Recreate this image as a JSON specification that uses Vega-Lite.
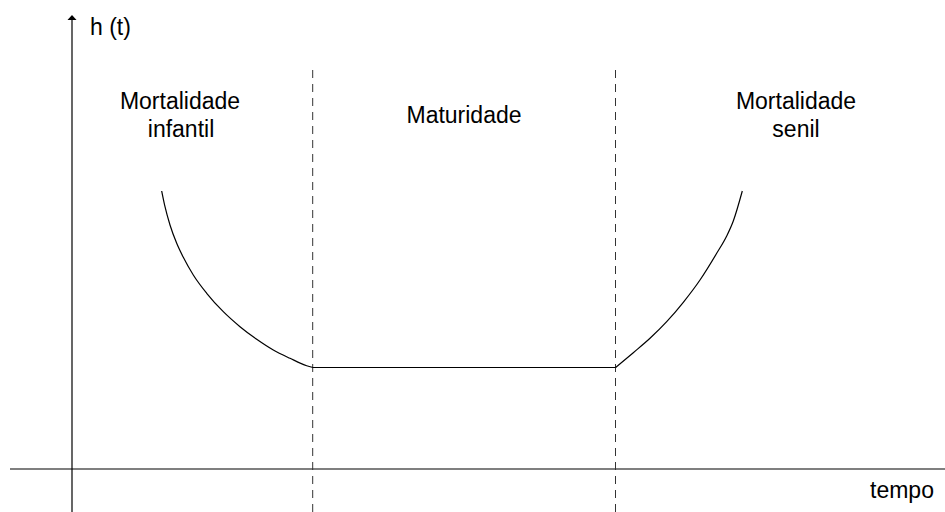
{
  "$schema": "https://vega.github.io/schema/vega-lite/v6.json",
  "width": 945,
  "height": 512,
  "padding": 0,
  "autosize": {"type": "none"},
  "background": "white",
  "config": {"view": {"stroke": null}, "font": "Liberation Sans"},
  "datasets": {
    "axes": [
      {"x": 0, "x2": 0, "y": -43, "y2": 451},
      {"x": -62, "x2": 873, "y": 0, "y2": 0}
    ],
    "dashes": [
      {"x": 240.7, "y": -43, "y2": 405},
      {"x": 543.5, "y": -43, "y2": 405}
    ],
    "arrow": [{"x": 0, "y": 451.5}],
    "curve": [
      {"seg": "a", "t": 89.7, "h": 278},
      {"seg": "a", "t": 93, "h": 262.3},
      {"seg": "a", "t": 98, "h": 244},
      {"seg": "a", "t": 104.7, "h": 225.7},
      {"seg": "a", "t": 111.3, "h": 211.7},
      {"seg": "a", "t": 121.3, "h": 194},
      {"seg": "a", "t": 134.7, "h": 175.7},
      {"seg": "a", "t": 151.3, "h": 157.3},
      {"seg": "a", "t": 168, "h": 142.3},
      {"seg": "a", "t": 184.7, "h": 129.7},
      {"seg": "a", "t": 201.3, "h": 119},
      {"seg": "a", "t": 218, "h": 110.7},
      {"seg": "a", "t": 234.7, "h": 103.3},
      {"seg": "a", "t": 241, "h": 101.5},
      {"seg": "b", "t": 241, "h": 101.5},
      {"seg": "b", "t": 543.7, "h": 101.5},
      {"seg": "c", "t": 543.7, "h": 101.5},
      {"seg": "c", "t": 561.3, "h": 116.3},
      {"seg": "c", "t": 578, "h": 130.7},
      {"seg": "c", "t": 594.7, "h": 147.3},
      {"seg": "c", "t": 611.3, "h": 166.7},
      {"seg": "c", "t": 628, "h": 189},
      {"seg": "c", "t": 644.7, "h": 215.7},
      {"seg": "c", "t": 654.7, "h": 233},
      {"seg": "c", "t": 661.3, "h": 248},
      {"seg": "c", "t": 670.3, "h": 278}
    ],
    "labels": [
      {"text": "Mortalidade", "x": 108, "y": 360.5},
      {"text": "infantil", "x": 109, "y": 332.5},
      {"text": "Maturidade", "x": 392, "y": 346.3},
      {"text": "Mortalidade", "x": 724, "y": 360.5},
      {"text": "senil", "x": 724, "y": 332.5}
    ],
    "leftlabels": [
      {"text": "h (t)", "x": 18, "y": 434},
      {"text": "tempo", "x": 798, "y": -29}
    ]
  },
  "layer": [
    {
      "data": {"name": "axes"},
      "mark": {"type": "rule", "color": "black", "strokeWidth": 1.2},
      "encoding": {
        "x": {"field": "x", "type": "quantitative", "scale": {"domain": [-72, 873], "nice": false, "zero": false}, "axis": null},
        "x2": {"field": "x2"},
        "y": {"field": "y", "type": "quantitative", "scale": {"domain": [-43, 469], "nice": false, "zero": false}, "axis": null},
        "y2": {"field": "y2"}
      }
    },
    {
      "data": {"name": "dashes"},
      "mark": {"type": "rule", "color": "#333333", "strokeWidth": 1, "strokeDash": [8, 6]},
      "encoding": {
        "x": {"field": "x", "type": "quantitative"},
        "y": {"field": "y", "type": "quantitative"},
        "y2": {"field": "y2"}
      }
    },
    {
      "data": {"name": "arrow"},
      "mark": {"type": "point", "shape": "M-1,0.55L0,-0.55L1,0.55Z", "size": 81, "filled": true, "color": "black", "opacity": 1},
      "encoding": {
        "x": {"field": "x", "type": "quantitative"},
        "y": {"field": "y", "type": "quantitative"}
      }
    },
    {
      "data": {"name": "curve"},
      "mark": {"type": "line", "color": "black", "strokeWidth": 1.2, "interpolate": "monotone"},
      "encoding": {
        "x": {"field": "t", "type": "quantitative"},
        "y": {"field": "h", "type": "quantitative"},
        "detail": {"field": "seg", "type": "nominal"}
      }
    },
    {
      "data": {"name": "labels"},
      "mark": {"type": "text", "align": "center", "baseline": "alphabetic", "fontSize": 23, "color": "black", "font": "Liberation Sans"},
      "encoding": {
        "x": {"field": "x", "type": "quantitative"},
        "y": {"field": "y", "type": "quantitative"},
        "text": {"field": "text"}
      }
    },
    {
      "data": {"name": "leftlabels"},
      "mark": {"type": "text", "align": "left", "baseline": "alphabetic", "fontSize": 23, "color": "black", "font": "Liberation Sans"},
      "encoding": {
        "x": {"field": "x", "type": "quantitative"},
        "y": {"field": "y", "type": "quantitative"},
        "text": {"field": "text"}
      }
    }
  ]
}
